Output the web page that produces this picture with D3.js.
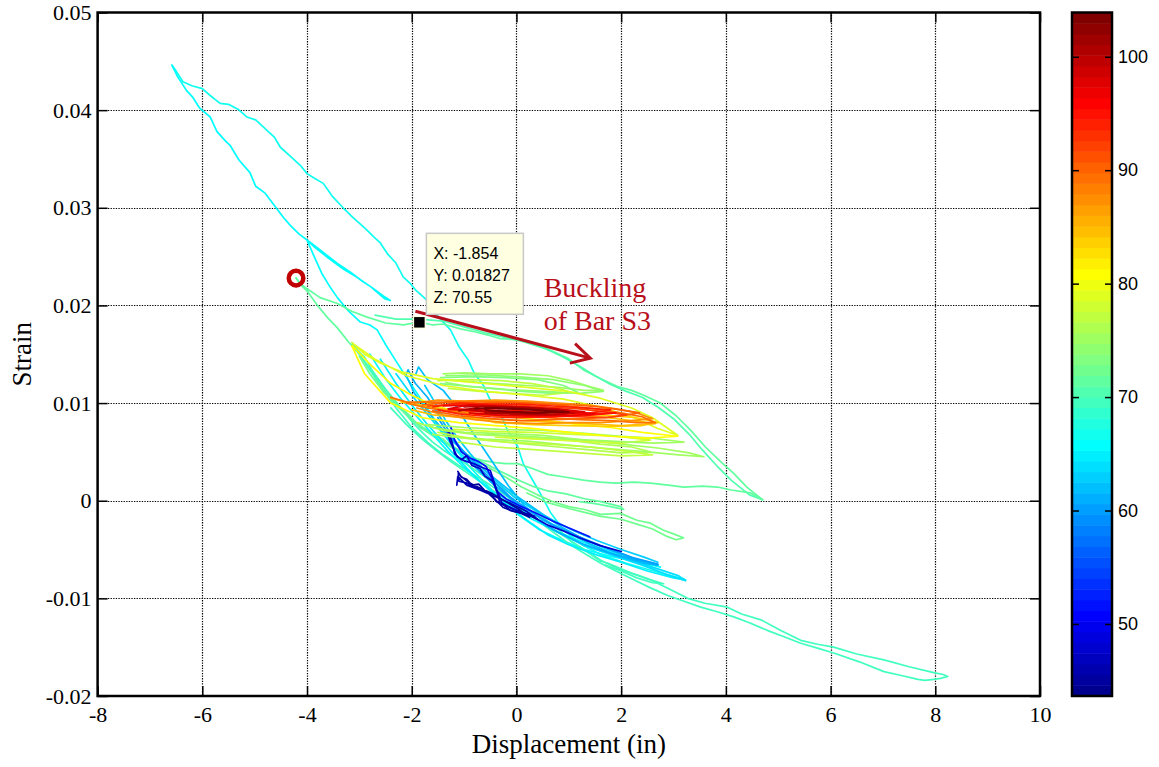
<!DOCTYPE html>
<html><head><meta charset="utf-8">
<script src="https://cdn.jsdelivr.net/npm/d3@7"></script>
<style>
body{margin:0;background:#fff;}
svg{display:block;}
</style></head><body>
<svg id="chart" width="1159" height="767"></svg>
<script>
// ---------------- DATA ----------------
const xTicks = [-8,-6,-4,-2,0,2,4,6,8,10];
const yTicks = [-0.02,-0.01,0,0.01,0.02,0.03,0.04,0.05];
const cTicks = [50,60,70,80,90,100];
const xDomain = [-8,10];
const yDomain = [-0.02,0.05];
const cDomain = [43.65,103.9];

const cyanUpper = [[-6.58,0.0446],[-6.50,0.0440],[-6.37,0.0429],[-6.20,0.0425],[-6.00,0.0422],[-5.85,0.0415],[-5.66,0.0407],[-5.50,0.0406],[-5.32,0.0401],[-5.15,0.0393],[-4.98,0.0390],[-4.76,0.0379],[-4.62,0.0372],[-4.51,0.0362],[-4.30,0.0352],[-4.12,0.0343],[-4.00,0.0335],[-3.85,0.0330],[-3.69,0.0325],[-3.52,0.0312],[-3.31,0.0300],[-3.12,0.0290],[-2.89,0.0279],[-2.72,0.0270],[-2.60,0.0264],[-2.45,0.0252],[-2.31,0.0244],[-2.16,0.0229],[-2.02,0.0222],[-1.93,0.0216],[-1.70,0.0205],[-1.55,0.0192],[-1.45,0.0186],[-1.26,0.0175],[-1.10,0.0158],[-0.92,0.0144],[-0.80,0.0130],[-0.63,0.0118],[-0.50,0.0103],[-0.36,0.0097],[-0.25,0.0082],[-0.17,0.0072],[0.02,0.0056],[0.13,0.0038],[0.30,0.0022],[0.45,0.0008],[0.65,-0.0012],[0.90,-0.0030],[1.25,-0.0045],[1.65,-0.0056],[2.10,-0.0064],[2.55,-0.0071],[2.95,-0.0077],[3.20,-0.0080]];
const cyanLower = [[-6.58,0.0446],[-6.48,0.0435],[-6.30,0.0420],[-6.18,0.0413],[-6.05,0.0402],[-5.85,0.0393],[-5.72,0.0378],[-5.55,0.0368],[-5.47,0.0364],[-5.30,0.0349],[-5.09,0.0336],[-4.98,0.0322],[-4.80,0.0315],[-4.62,0.0302],[-4.45,0.0290],[-4.32,0.0282],[-4.15,0.0273],[-4.00,0.0267],[-3.80,0.0259],[-3.61,0.0251],[-3.42,0.0243],[-3.17,0.0234],[-2.95,0.0225],[-2.75,0.0218],[-2.55,0.0210],[-2.41,0.0205],[-2.52,0.0207],[-2.78,0.0219],[-3.05,0.0229],[-3.30,0.0237],[-3.58,0.0248],[-3.84,0.0259],[-4.00,0.0267],[-3.88,0.0252],[-3.72,0.0233],[-3.55,0.0218],[-3.42,0.0208],[-3.22,0.0195],[-2.98,0.0183],[-2.80,0.0180],[-2.66,0.0175],[-2.50,0.0160],[-2.30,0.0143],[-2.12,0.0128],[-1.90,0.0110],[-1.65,0.0090],[-1.40,0.0070],[-1.15,0.0052],[-0.90,0.0035],[-0.60,0.0018],[-0.30,0.0002],[0.05,-0.0015],[0.45,-0.0030],[0.85,-0.0040],[1.30,-0.0050],[1.80,-0.0057],[2.30,-0.0062],[2.70,-0.0066]];
const greenUpper = [[-4.21,0.0228],[-4.12,0.0222],[-4.00,0.0217],[-3.75,0.0208],[-3.42,0.0202],[-3.15,0.0194],[-2.85,0.0188],[-2.50,0.0182],[-2.16,0.0180],[-1.85,0.0183],[-1.60,0.0180],[-1.40,0.0181],[-1.07,0.0176],[-0.80,0.0173],[-0.50,0.0169],[-0.31,0.0166],[0.02,0.0165],[0.30,0.0160],[0.65,0.0154],[0.98,0.0146],[1.28,0.0134],[1.61,0.0125],[1.93,0.0117],[2.20,0.0113],[2.43,0.0108],[2.75,0.0100],[3.05,0.0087],[3.33,0.0072],[3.61,0.0055],[3.90,0.0040],[4.15,0.0028],[4.40,0.0014],[4.70,0.0001]];
const greenUpperReturn = [[4.70,0.0001],[4.45,0.0006],[4.10,0.0021],[3.84,0.0035],[3.55,0.0052],[3.30,0.0068],[3.00,0.0084],[2.70,0.0096],[2.40,0.0106],[2.10,0.0112],[1.80,0.0119],[1.50,0.0128],[1.20,0.0138],[0.90,0.0147],[0.55,0.0156],[0.20,0.0162],[-0.20,0.0167],[-0.60,0.0172],[-1.00,0.0178],[-1.40,0.0184],[-1.85,0.0186],[-2.30,0.0186],[-2.70,0.0190]];
const greenLower = [[-4.21,0.0228],[-4.10,0.0220],[-4.00,0.0215],[-3.80,0.0200],[-3.60,0.0187],[-3.42,0.0177],[-3.20,0.0162],[-3.00,0.0150],[-2.80,0.0135],[-2.60,0.0120],[-2.40,0.0108],[-2.20,0.0095],[-2.00,0.0085],[-1.84,0.0075],[-1.60,0.0068],[-1.40,0.0063],[-1.26,0.0055],[-1.05,0.0050],[-0.90,0.0045],[-0.63,0.0041],[-0.40,0.0039],[-0.20,0.0038],[0.02,0.0038],[0.30,0.0033],[0.60,0.0027],[0.95,0.0024],[1.28,0.0021],[1.60,0.0019],[1.90,0.0018],[2.25,0.0019],[2.56,0.0018],[2.90,0.0016],[3.20,0.0014],[3.55,0.0015],[3.84,0.0014],[4.10,0.0011],[4.47,0.0008],[4.70,0.0001]];
const longLower = [[-3.14,0.0162],[-3.00,0.0152],[-2.90,0.0147],[-2.75,0.0133],[-2.55,0.0118],[-2.38,0.0105],[-2.16,0.0092],[-1.98,0.0080],[-1.78,0.0069],[-1.60,0.0060],[-1.40,0.0052],[-1.20,0.0045],[-1.00,0.0039],[-0.75,0.0030],[-0.50,0.0021],[-0.25,0.0012],[0.02,0.0004],[0.20,-0.0004],[0.40,-0.0012],[0.62,-0.0022],[0.84,-0.0031],[1.05,-0.0042],[1.30,-0.0050],[1.61,-0.0061],[1.99,-0.0071],[2.30,-0.0076],[2.56,-0.0081],[2.90,-0.0090],[3.27,-0.0100],[3.60,-0.0105],[4.03,-0.0109],[4.30,-0.0116],[4.67,-0.0122],[5.05,-0.0133],[5.43,-0.0143],[5.75,-0.0147],[6.06,-0.0150],[6.50,-0.0157],[7.02,-0.0163],[7.50,-0.0170],[7.97,-0.0176],[8.15,-0.0178],[8.24,-0.0180],[8.10,-0.0182],[7.97,-0.0183],[7.80,-0.0184],[7.67,-0.0183],[7.35,-0.0179],[7.02,-0.0175],[6.55,-0.0165],[6.06,-0.0156],[5.75,-0.0151],[5.43,-0.0146],[5.10,-0.0139],[4.80,-0.0133],[4.45,-0.0125],[4.15,-0.0119],[3.85,-0.0114],[3.52,-0.0109],[3.20,-0.0103],[2.89,-0.0097],[2.55,-0.0089],[2.24,-0.0081],[1.90,-0.0072],[1.61,-0.0064],[1.30,-0.0054],[1.00,-0.0044],[0.70,-0.0032],[0.40,-0.0020],[0.10,-0.0007],[-0.20,0.0005],[-0.50,0.0016],[-0.80,0.0026],[-1.10,0.0036],[-1.40,0.0047],[-1.70,0.0060],[-2.00,0.0075],[-2.30,0.0095],[-2.60,0.0118],[-2.85,0.0138],[-3.05,0.0154],[-3.14,0.0160]];
const greenMid = [[-3.00,0.0148],[-2.80,0.0130],[-2.55,0.0112],[-2.30,0.0098],[-2.00,0.0083],[-1.70,0.0072],[-1.40,0.0062],[-1.10,0.0052],[-0.80,0.0042],[-0.50,0.0033],[-0.20,0.0024],[0.10,0.0014],[0.40,0.0006],[0.70,-0.0001],[1.00,-0.0006],[1.30,-0.0009],[1.61,-0.0014],[1.99,-0.0013],[2.30,-0.0020],[2.56,-0.0023],[2.80,-0.0030],[3.00,-0.0034],[3.19,-0.0038],[3.05,-0.0040],[2.85,-0.0036],[2.60,-0.0029],[2.30,-0.0024],[2.00,-0.0019],[1.61,-0.0016],[1.30,-0.0012],[1.00,-0.0008],[0.60,-0.0002],[0.20,0.0008]];
const greenShort = [[-2.70,0.0125],[-2.40,0.0105],[-2.10,0.0088],[-1.80,0.0074],[-1.50,0.0063],[-1.20,0.0054],[-0.90,0.0046],[-0.60,0.0038],[-0.30,0.0030],[0.00,0.0022],[0.30,0.0015],[0.60,0.0010],[0.95,0.0007],[1.30,0.0002],[1.61,-0.0001],[1.99,-0.0006],[2.05,-0.0009],[1.80,-0.0006],[1.50,-0.0003],[1.20,-0.0001]];
const greenCyanEnd = [[-2.40,0.0095],[-2.10,0.0078],[-1.80,0.0063],[-1.50,0.0050],[-1.20,0.0038],[-0.90,0.0027],[-0.60,0.0016],[-0.30,0.0005],[0.00,-0.0006],[0.30,-0.0016],[0.60,-0.0026],[0.90,-0.0036],[1.20,-0.0047],[1.50,-0.0058],[1.61,-0.0062],[1.75,-0.0064],[2.24,-0.0075],[2.50,-0.0080],[2.81,-0.0085],[2.60,-0.0084],[2.30,-0.0079],[2.00,-0.0072],[1.70,-0.0066]];
const blueA = [[-2.12,0.0128],[-2.07,0.0134],[-1.93,0.0120],[-1.70,0.0106],[-1.45,0.0085],[-1.20,0.0064],[-0.95,0.0045],[-0.70,0.0030],[-0.40,0.0015],[-0.10,0.0002],[0.20,-0.0012],[0.55,-0.0025],[0.90,-0.0035],[1.30,-0.0045],[1.80,-0.0054],[2.30,-0.0061],[2.70,-0.0066]];
const blueB = [[-1.92,0.0130],[-1.87,0.0137],[-1.70,0.0124],[-1.40,0.0113],[-1.13,0.0095],[-0.90,0.0075],[-0.65,0.0055],[-0.40,0.0035],[-0.15,0.0015],[0.15,-0.0005],[0.50,-0.0020],[0.95,-0.0032],[1.40,-0.0044],[1.90,-0.0056],[2.40,-0.0064],[2.70,-0.0066],[2.30,-0.0060],[1.80,-0.0050],[1.30,-0.0040],[0.80,-0.0025],[0.40,-0.0010],[0.00,0.0005],[-0.40,0.0022],[-0.80,0.0040],[-1.20,0.0060],[-1.60,0.0085],[-1.95,0.0110],[-2.10,0.0128]];
const blueC = [[-2.60,0.0145],[-2.30,0.0120],[-2.00,0.0098],[-1.70,0.0078],[-1.40,0.0060],[-1.10,0.0042],[-0.80,0.0025],[-0.50,0.0010],[-0.20,-0.0004],[0.20,-0.0020],[0.60,-0.0035],[1.00,-0.0045],[1.50,-0.0055],[2.00,-0.0063],[2.50,-0.0072],[3.00,-0.0079],[3.23,-0.0081]];
const blueD = [[-2.30,0.0130],[-2.00,0.0108],[-1.60,0.0082],[-1.20,0.0055],[-0.80,0.0035],[-0.40,0.0015],[0.00,-0.0002],[0.40,-0.0016],[0.90,-0.0030],[1.40,-0.0042],[2.00,-0.0056],[2.60,-0.0068],[3.10,-0.0077],[3.23,-0.0082],[2.90,-0.0076],[2.40,-0.0066],[1.90,-0.0057],[1.30,-0.0046],[0.70,-0.0030],[0.20,-0.0012],[-0.30,0.0005]];
const blueE = [[-1.50,0.0085],[-1.30,0.0068],[-1.00,0.0050],[-0.70,0.0033],[-0.40,0.0018],[-0.10,0.0003],[0.30,-0.0012],[0.70,-0.0025],[1.20,-0.0037],[1.70,-0.0048],[2.20,-0.0058],[2.70,-0.0065]];
const blueF = [[-2.80,0.0150],[-2.50,0.0125],[-2.20,0.0104],[-1.90,0.0086],[-1.60,0.0068],[-1.30,0.0050],[-1.00,0.0034],[-0.70,0.0020],[-0.40,0.0007],[-0.10,-0.0006],[0.30,-0.0019],[0.80,-0.0032],[1.30,-0.0043],[1.80,-0.0053],[2.30,-0.0062],[2.75,-0.0068],[2.40,-0.0063],[1.90,-0.0055]];
const blueG = [[-1.75,0.0118],[-1.55,0.0100],[-1.35,0.0082],[-1.12,0.0064],[-0.88,0.0048],[-0.62,0.0032],[-0.35,0.0018],[-0.05,0.0004],[0.30,-0.0008],[0.70,-0.0020],[1.10,-0.0031],[1.55,-0.0041],[2.00,-0.0050],[2.45,-0.0058],[2.70,-0.0063]];
const darkBlueA = [[-1.32,0.0069],[-1.26,0.0060],[-1.13,0.0045],[-1.00,0.0041],[-0.82,0.0038],[-0.65,0.0034],[-0.50,0.0031],[-0.42,0.0018],[-0.31,-0.0003],[-0.15,-0.0006],[0.02,-0.0010],[0.30,-0.0016],[0.60,-0.0025],[0.90,-0.0031],[1.20,-0.0038],[1.60,-0.0046],[2.00,-0.0052]];
const darkBlueB = [[-1.11,0.0028],[-1.10,0.0020],[-0.94,0.0018],[-0.75,0.0013],[-0.55,0.0008],[-0.40,0.0001],[-0.25,-0.0007],[-0.05,-0.0011],[0.20,-0.0014],[0.40,-0.0019],[0.20,-0.0011],[-0.10,-0.0003],[-0.40,0.0004],[-0.70,0.0011],[-0.95,0.0016],[-1.12,0.0025],[-1.14,0.0016]];
const darkBlueC = [[-1.25,0.0075],[-1.18,0.0062],[-1.05,0.0050],[-0.90,0.0044],[-0.72,0.0040],[-0.58,0.0035],[-0.48,0.0024],[-0.38,0.0010],[-0.20,0.0002],[0.05,-0.0005],[0.35,-0.0012],[0.70,-0.0021],[1.05,-0.0029],[1.40,-0.0037]];
const darkBlueD = [[-1.30,0.0072],[-1.22,0.0058],[-1.18,0.0048],[-1.05,0.0042],[-0.95,0.0046],[-0.85,0.0036],[-0.70,0.0033],[-0.60,0.0025],[-0.45,0.0020],[-0.35,0.0008],[-0.28,-0.0002],[-0.10,-0.0008],[0.10,-0.0012],[0.35,-0.0016]];
const darkBlueE = [[-1.12,0.0030],[-1.05,0.0024],[-0.95,0.0022],[-0.85,0.0016],[-0.72,0.0017],[-0.60,0.0010],[-0.48,0.0006],[-0.38,-0.0001],[-0.25,-0.0004],[-0.12,-0.0010],[0.05,-0.0012],[0.25,-0.0017],[0.05,-0.0009],[-0.20,-0.0001],[-0.45,0.0007],[-0.70,0.0013],[-0.92,0.0019],[-1.08,0.0026]];
const greenBandA = [[-1.40,0.0130],[-1.00,0.0131],[-0.50,0.0130],[0.08,0.0130],[0.60,0.0128],[1.03,0.0123],[1.40,0.0117],[1.66,0.0113],[1.30,0.0113],[0.80,0.0116],[0.20,0.0118],[-0.40,0.0120],[-0.90,0.0122],[-1.40,0.0124]];
const greenBandB = [[-1.45,0.0126],[-0.80,0.0127],[-0.20,0.0126],[0.40,0.0124],[0.90,0.0118],[1.17,0.0111],[0.70,0.0110],[0.10,0.0112],[-0.50,0.0115],[-1.10,0.0118],[-1.45,0.0120]];
const greenBandC = [[-1.50,0.0123],[-0.90,0.0124],[-0.30,0.0123],[0.30,0.0120],[0.80,0.0115],[1.03,0.0111],[0.50,0.0108],[-0.10,0.0110],[-0.70,0.0112],[-1.30,0.0115]];
const greenBandD = [[-1.35,0.0128],[-0.70,0.0129],[0.00,0.0127],[0.70,0.0124],[1.30,0.0118],[1.66,0.0112],[1.20,0.0110],[0.50,0.0112],[-0.20,0.0114],[-0.90,0.0117],[-1.35,0.0121]];
const yellowGreenA = [[-3.14,0.0162],[-2.90,0.0150],[-2.60,0.0141],[-2.20,0.0132],[-1.60,0.0125],[-1.00,0.0122],[-0.40,0.0119],[0.20,0.0116],[0.98,0.0112],[1.60,0.0105],[2.20,0.0095],[2.60,0.0085],[3.08,0.0067],[2.70,0.0074],[2.20,0.0086],[1.60,0.0096],[0.90,0.0104],[0.20,0.0108],[-0.60,0.0112],[-1.40,0.0118],[-2.10,0.0128],[-2.70,0.0145],[-3.10,0.0160]];
const yellowA = [[-3.14,0.0159],[-2.80,0.0140],[-2.40,0.0120],[-2.00,0.0108],[-1.60,0.0098],[-1.20,0.0092],[-0.60,0.0088],[0.00,0.0085],[0.60,0.0082],[1.20,0.0078],[1.80,0.0075],[2.40,0.0070],[3.08,0.0066],[2.50,0.0064],[1.80,0.0066],[1.00,0.0070],[0.30,0.0074],[-0.40,0.0077],[-1.10,0.0080],[-1.80,0.0085],[-2.40,0.0100],[-2.90,0.0130],[-3.14,0.0158]];
const lowBandA = [[-1.90,0.0080],[-1.40,0.0072],[-0.80,0.0068],[-0.20,0.0066],[0.40,0.0064],[1.00,0.0062],[1.60,0.0058],[2.20,0.0055],[2.56,0.0050],[2.00,0.0049],[1.40,0.0052],[0.80,0.0055],[0.20,0.0058],[-0.40,0.0061],[-1.00,0.0064],[-1.60,0.0068]];
const lowBandB = [[-1.60,0.0075],[-1.00,0.0070],[-0.30,0.0069],[0.50,0.0067],[1.30,0.0062],[2.00,0.0058],[2.70,0.0054],[3.30,0.0049],[3.58,0.0045],[3.10,0.0047],[2.50,0.0050],[1.80,0.0053],[1.00,0.0057],[0.20,0.0061],[-0.60,0.0063],[-1.30,0.0066]];
const lowBandC = [[-1.20,0.0073],[-0.50,0.0071],[0.30,0.0070],[1.10,0.0068],[1.90,0.0066],[2.56,0.0062],[2.00,0.0059],[1.20,0.0061],[0.40,0.0063],[-0.40,0.0065]];
const lowBandD = [[-1.50,0.0070],[-0.90,0.0064],[-0.20,0.0060],[0.60,0.0058],[1.40,0.0055],[2.20,0.0050],[2.60,0.0047],[2.00,0.0046],[1.20,0.0049],[0.40,0.0052],[-0.40,0.0055],[-1.10,0.0060]];
const lowBandE = [[-1.70,0.0078],[-1.00,0.0075],[-0.30,0.0073],[0.50,0.0072],[1.30,0.0069],[2.00,0.0066],[2.60,0.0064],[3.20,0.0060],[2.60,0.0059],[1.80,0.0061],[1.00,0.0063],[0.20,0.0066],[-0.60,0.0068]];
const yellowOrange = [[-2.20,0.0101],[-1.60,0.0096],[-1.00,0.0088],[-0.40,0.0080],[0.30,0.0078],[1.00,0.0077],[1.80,0.0076],[2.40,0.0077],[2.70,0.0080],[2.30,0.0085],[1.60,0.0088],[0.80,0.0090]];
const orangeA = [[-2.40,0.0106],[-2.10,0.0101],[-1.80,0.0101],[-1.40,0.0101],[-0.80,0.0102],[-0.20,0.0101],[0.40,0.0100],[1.00,0.0097],[1.50,0.0094],[2.00,0.0090],[2.40,0.0086],[2.65,0.0080],[2.30,0.0080],[1.80,0.0082],[1.20,0.0083],[0.60,0.0085],[0.00,0.0086],[-0.60,0.0088],[-1.20,0.0091],[-1.70,0.0095],[-2.10,0.0100]];
const orangeB = [[-2.40,0.0105],[-1.90,0.0098],[-1.30,0.0093],[-0.60,0.0092],[0.20,0.0091],[0.90,0.0089],[1.60,0.0086],[2.20,0.0082],[2.65,0.0079],[2.00,0.0077],[1.30,0.0079],[0.50,0.0081],[-0.30,0.0083],[-1.00,0.0085],[-1.60,0.0088],[-2.00,0.0093]];
const orangeC = [[-1.95,0.0100],[-1.50,0.0103],[-1.00,0.0102],[-0.40,0.0103],[0.20,0.0102],[0.80,0.0100],[1.40,0.0098],[1.90,0.0094],[2.30,0.0090],[2.60,0.0084],[2.20,0.0082],[1.60,0.0080],[1.00,0.0080],[0.40,0.0079],[-0.20,0.0080],[-0.80,0.0083],[-1.40,0.0088],[-1.90,0.0095]];
const orangeD = [[-1.80,0.0098],[-1.30,0.0101],[-0.70,0.0100],[-0.10,0.0101],[0.50,0.0099],[1.10,0.0098],[1.60,0.0096],[2.00,0.0093],[2.35,0.0090],[1.90,0.0086],[1.30,0.0084],[0.70,0.0083],[0.10,0.0082],[-0.50,0.0084],[-1.10,0.0087],[-1.60,0.0092]];
const redA = [[-1.70,0.0097],[-1.20,0.0099],[-0.60,0.0099],[0.00,0.0098],[0.60,0.0096],[1.20,0.0094],[1.70,0.0091],[2.10,0.0088],[1.70,0.0085],[1.10,0.0086],[0.50,0.0087],[-0.10,0.0089],[-0.70,0.0091],[-1.30,0.0093]];
const redB = [[-1.40,0.0097],[-0.80,0.0098],[-0.20,0.0097],[0.40,0.0095],[1.00,0.0092],[1.50,0.0089],[1.00,0.0087],[0.40,0.0088],[-0.20,0.0090],[-0.80,0.0092],[-1.30,0.0094]];
const redC = [[-1.20,0.0094],[-0.60,0.0093],[0.10,0.0092],[0.70,0.0090],[1.30,0.0089],[1.90,0.0090],[1.30,0.0087],[0.60,0.0086],[-0.10,0.0087],[-0.80,0.0089]];
const redD = [[-1.60,0.0096],[-1.10,0.0100],[-0.50,0.0099],[0.10,0.0099],[0.70,0.0097],[1.30,0.0095],[1.80,0.0093],[1.30,0.0089],[0.70,0.0086],[0.10,0.0085],[-0.50,0.0086],[-1.10,0.0089],[-1.50,0.0093]];
const redE = [[-1.30,0.0094],[-0.90,0.0098],[-0.40,0.0097],[0.20,0.0096],[0.80,0.0094],[1.30,0.0091],[0.80,0.0088],[0.20,0.0087],[-0.40,0.0088],[-0.90,0.0090]];
const darkRedA = [[-1.00,0.0096],[-0.50,0.0097],[0.00,0.0095],[0.60,0.0093],[1.10,0.0090],[0.60,0.0088],[0.00,0.0089],[-0.50,0.0091],[-0.90,0.0093]];
const darkRedB = [[-0.60,0.0095],[-0.20,0.0094],[0.30,0.0093],[0.80,0.0091],[0.30,0.0090],[-0.20,0.0091],[-0.60,0.0093]];
const darkRedC = [[-1.10,0.0092],[-0.70,0.0096],[-0.20,0.0096],[0.30,0.0095],[0.90,0.0092],[0.40,0.0089],[-0.10,0.0089],[-0.60,0.0090]];
const darkRedD = [[-0.80,0.0094],[-0.40,0.0095],[0.10,0.0094],[0.60,0.0092],[1.00,0.0091],[0.50,0.0090],[0.00,0.0091],[-0.50,0.0092]];

// trace drawing order with colour value (Z)
const traceList = [
  [cyanUpper,66.5],[cyanLower,66],[greenUpper,71.5],[greenUpperReturn,70.8],[greenLower,71],
  [longLower,69.5],[greenMid,72],[greenShort,71],[greenCyanEnd,70],
  [blueF,66],[blueC,65],[blueD,64],[blueG,63],[blueB,62],[blueA,61],[blueE,60],
  [darkBlueC,52],[darkBlueA,48],[darkBlueD,47],[darkBlueB,46],[darkBlueE,45],
  [lowBandA,76],[lowBandB,75],[lowBandC,78],[lowBandD,77],[lowBandE,75.5],
  [greenBandA,75],[greenBandB,73.5],[greenBandC,77],[greenBandD,74],
  [yellowGreenA,79],[yellowA,81],[yellowOrange,84],
  [orangeB,85],[orangeC,87],[orangeA,89],[orangeD,90],[redA,92],[redD,94],[redC,95],[redB,97],[redE,98],
  [darkRedA,100],[darkRedC,101],[darkRedB,103],[darkRedD,103.5]
];

const tip = {x:-1.854, y:0.01827, z:70.55};
const circlePt = [-4.21,0.0228];

// ---------------- DRAW ----------------
const svg = d3.select("#chart");
const L=97.6, R=1040, T=12.5, B=696;
const x = d3.scaleLinear().domain(xDomain).range([L,R]);
const y = d3.scaleLinear().domain(yDomain).range([B,T]);
const c = d3.scaleLinear().domain(cDomain).range([B,T]);

// MATLAB jet colormap
function jetMap(m){
  const n=Math.ceil(m/4), u=[];
  for(let k=1;k<=n;k++)u.push(k/n);
  for(let k=1;k<n;k++)u.push(1);
  for(let k=n;k>=1;k--)u.push(k/n);
  const g0=Math.ceil(n/2)-(m%4===1?1:0);
  const r=new Array(m).fill(0), g=new Array(m).fill(0), b=new Array(m).fill(0);
  u.forEach((v,j)=>{
    const gi=g0+j+1, ri=gi+n, bi=gi-n;
    if(gi>=1&&gi<=m)g[gi-1]=v;
    if(ri>=1&&ri<=m)r[ri-1]=v;
    if(bi>=1&&bi<=m)b[bi-1]=v;
  });
  return d3.range(m).map(i=>d3.rgb(r[i]*255,g[i]*255,b[i]*255).formatHex());
}
const M=64, cmap=jetMap(M);
function colorOf(z){
  let i=Math.floor((z-cDomain[0])/(cDomain[1]-cDomain[0])*M);
  i=Math.max(0,Math.min(M-1,i));
  return cmap[i];
}

const serif='"Liberation Serif","Times New Roman",Times,serif';
const sans='"Liberation Sans",Arial,Helvetica,sans-serif';

// grid
const grid=svg.append("g").attr("stroke","#000").attr("stroke-width",1.2).attr("stroke-dasharray","1.3,1.3");
grid.selectAll("line.gx").data(xTicks.slice(1,-1)).join("line")
  .attr("x1",d=>Math.round(x(d))+0.5).attr("x2",d=>Math.round(x(d))+0.5).attr("y1",T).attr("y2",B);
grid.selectAll("line.gy").data(yTicks.slice(1,-1)).join("line")
  .attr("y1",d=>Math.round(y(d))+0.5).attr("y2",d=>Math.round(y(d))+0.5).attr("x1",L).attr("x2",R);

// traces
svg.append("clipPath").attr("id","clip").append("rect").attr("x",L).attr("y",T).attr("width",R-L).attr("height",B-T);
const line=d3.line().x(d=>x(d[0])).y(d=>y(d[1]));
svg.append("g").attr("clip-path","url(#clip)").selectAll("path").data(traceList).join("path")
  .attr("d",d=>line(d[0])).attr("fill","none").attr("stroke",d=>colorOf(d[1]))
  .attr("stroke-width",1.7).attr("stroke-linejoin","round").attr("stroke-linecap","round");

// axes
function styleAxis(g){
  g.attr("font-family",serif).attr("font-size",22);
  g.select(".domain").remove();
  g.selectAll(".tick line").attr("stroke","#000").attr("stroke-width",1.5);
  g.selectAll(".tick text").attr("fill","#000").style("font-family",serif).style("font-size","22px");
}
const fmtY=d=>d===0?"0":String(+d.toFixed(2));
svg.append("g").attr("transform",`translate(0,${B})`)
  .call(d3.axisBottom(x).tickValues(xTicks).tickSize(-10).tickPadding(10).tickFormat(d=>String(d))).call(styleAxis);
svg.append("g").attr("transform",`translate(0,${T})`)
  .call(d3.axisTop(x).tickValues(xTicks).tickSize(-10).tickFormat("")).call(styleAxis);
svg.append("g").attr("transform",`translate(${L},0)`)
  .call(d3.axisLeft(y).tickValues(yTicks).tickSize(-10).tickPadding(6).tickFormat(fmtY)).call(styleAxis);
svg.append("g").attr("transform",`translate(${R},0)`)
  .call(d3.axisRight(y).tickValues(yTicks).tickSize(-10).tickFormat("")).call(styleAxis);

svg.append("rect").attr("x",L).attr("y",T).attr("width",R-L).attr("height",B-T)
  .attr("fill","none").attr("stroke","#000").attr("stroke-width",2.5);

// axis titles
svg.append("text").attr("x",(L+R)/2).attr("y",753).attr("text-anchor","middle")
  .style("font-family",serif).style("font-size","27px").text("Displacement (in)");
svg.append("text").attr("transform",`translate(31,${(T+B)/2}) rotate(-90)`).attr("text-anchor","middle")
  .style("font-family",serif).style("font-size","27px").text("Strain");

// annotations: arrow + text
const red="#B8101A";
const a0=[x(-1.93),y(0.0194)], a1=[x(1.41),y(0.0146)];
svg.append("line").attr("x1",a0[0]).attr("y1",a0[1]).attr("x2",a1[0]).attr("y2",a1[1])
  .attr("stroke",red).attr("stroke-width",3);
const ang=Math.atan2(a1[1]-a0[1],a1[0]-a0[0])+Math.PI, hl=21, ha=0.5;
svg.append("path").attr("d",`M${a1[0]+hl*Math.cos(ang+ha)},${a1[1]+hl*Math.sin(ang+ha)}L${a1[0]},${a1[1]}L${a1[0]+hl*Math.cos(ang-ha)},${a1[1]+hl*Math.sin(ang-ha)}`)
  .attr("fill","none").attr("stroke",red).attr("stroke-width",3);
svg.append("text").attr("x",x(0.52)).attr("y",y(0.0209)).attr("fill",red)
  .style("font-family",serif).style("font-size","28px").text("Buckling");
svg.append("text").attr("x",x(0.52)).attr("y",y(0.0175)).attr("fill",red)
  .style("font-family",serif).style("font-size","28px").text("of Bar S3");

// red circle marker
svg.append("circle").attr("cx",x(circlePt[0])).attr("cy",y(circlePt[1])).attr("r",7.3)
  .attr("fill","none").attr("stroke","#C00000").attr("stroke-width",4.5);

// data tip
const sx=x(tip.x), sy=y(tip.y);
svg.append("rect").attr("x",sx-6).attr("y",sy-6).attr("width",12).attr("height",12)
  .attr("fill","#000").attr("stroke","#FFFFE1").attr("stroke-width",1.5);
svg.append("rect").attr("x",sx+7).attr("y",sy-89).attr("width",97).attr("height",81)
  .attr("fill","#FFFFE1").attr("stroke","#C8C8C8").attr("stroke-width",1.5);
const tipLines=[`X: ${tip.x}`,`Y: ${tip.y}`,`Z: ${tip.z}`];
svg.append("g").selectAll("text").data(tipLines).join("text")
  .attr("x",sx+14).attr("y",(d,i)=>sy-63+i*22)
  .style("font-family",sans).style("font-size","16px").attr("fill","#000").text(d=>d);

// colorbar
const cbL=1072, cbR=1112;
const step=(cDomain[1]-cDomain[0])/M;
svg.append("g").selectAll("rect").data(d3.range(M)).join("rect")
  .attr("x",cbL).attr("width",cbR-cbL)
  .attr("y",i=>c(cDomain[0]+(i+1)*step)).attr("height",i=>c(cDomain[0]+i*step)-c(cDomain[0]+(i+1)*step)+0.5)
  .attr("fill",i=>cmap[i]);
function styleCb(g){
  g.attr("font-family",sans).attr("font-size",18);
  g.select(".domain").remove();
  g.selectAll(".tick line").attr("stroke","#000").attr("stroke-width",1.5);
  g.selectAll(".tick text").attr("fill","#000").style("font-family",sans).style("font-size","18px");
}
svg.append("g").attr("transform",`translate(${cbR},0)`)
  .call(d3.axisRight(c).tickValues(cTicks).tickSize(-7).tickPadding(6)).call(styleCb);
svg.append("g").attr("transform",`translate(${cbL},0)`)
  .call(d3.axisLeft(c).tickValues(cTicks).tickSize(-7).tickFormat("")).call(styleCb);
svg.append("rect").attr("x",cbL).attr("y",T).attr("width",cbR-cbL).attr("height",B-T)
  .attr("fill","none").attr("stroke","#000").attr("stroke-width",2.5);
</script>
</body></html>
